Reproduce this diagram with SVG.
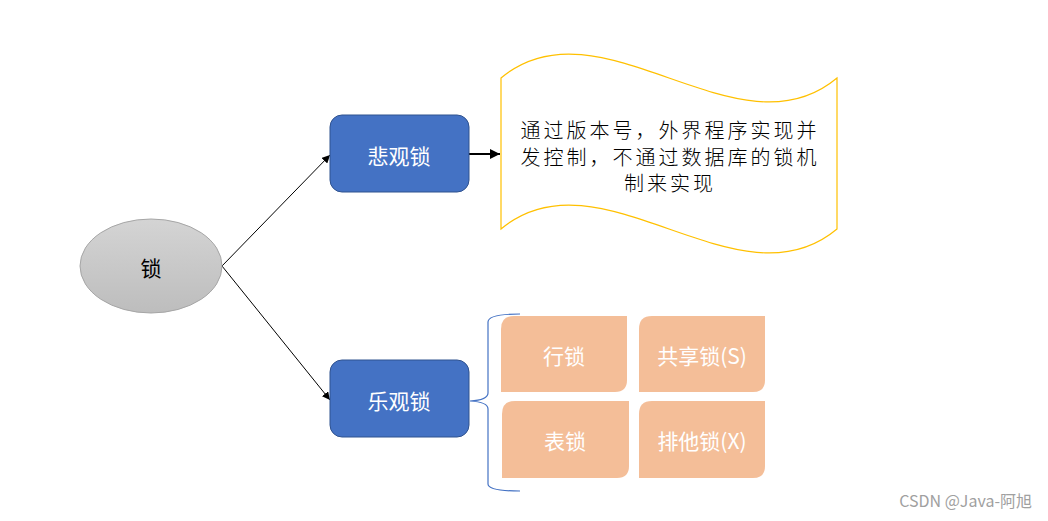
<svg xmlns="http://www.w3.org/2000/svg" width="1048" height="521" viewBox="0 0 1048 521">
<defs>
<linearGradient id="gGray" x1="0" y1="0" x2="0" y2="1">
<stop offset="0" stop-color="#D4D4D4"/>
<stop offset="1" stop-color="#BDBDBD"/>
</linearGradient>
<marker id="arrowThin" viewBox="0 0 10 10" refX="10" refY="5" markerWidth="8" markerHeight="8" markerUnits="userSpaceOnUse" orient="auto">
<path d="M0,0 L10,5 L0,10 Z" fill="#000"/>
</marker>
<marker id="arrowThick" viewBox="0 0 10 10" refX="10" refY="5" markerWidth="10" markerHeight="10" markerUnits="userSpaceOnUse" orient="auto">
<path d="M0,0 L10,5 L0,10 Z" fill="#000"/>
</marker>
</defs>
<style>
.cjk{font-family:"Microsoft YaHei","Noto Sans CJK SC","Noto Sans",sans-serif;}
.blue{fill:#4472C4;stroke:#2F528F;stroke-width:1;}
.orange{fill:#F4BE98;}
.wtxt{fill:#FFFFFF;font-size:21px;text-anchor:middle;dominant-baseline:central;}
.btxt{fill:#000000;font-size:21px;text-anchor:middle;dominant-baseline:central;}
.wave{font-size:20px;letter-spacing:3px;font-weight:300;}
.conn{stroke:#000;stroke-width:1;fill:none;}
</style>
<rect width="1048" height="521" fill="#FFFFFF"/>

<g id="connectors">
<line class="conn" x1="222" y1="266" x2="330" y2="155" marker-end="url(#arrowThin)"/>
<line class="conn" x1="222" y1="266" x2="330" y2="400" marker-end="url(#arrowThin)"/>
<line x1="469" y1="154" x2="500" y2="154" stroke="#000" stroke-width="2" marker-end="url(#arrowThick)"/>
<path d="M520,314 Q488,314 488,322 L488,393 Q488,400 470,401 Q488,402 488,409 L488,484 Q488,491 520,491" fill="none" stroke="#4472C4" stroke-width="1.2"/>
</g>

<g id="node-lock">
<ellipse cx="151" cy="266" rx="71" ry="47" fill="url(#gGray)" stroke="#A6A6A6" stroke-width="1"/>
<text class="cjk btxt" x="151" y="267">锁</text>
</g>

<g id="node-pessimistic">
<rect class="blue" x="330" y="115" width="139" height="77" rx="12"/>
<text class="cjk wtxt" x="399" y="155">悲观锁</text>
</g>

<g id="node-optimistic">
<rect class="blue" x="330" y="360" width="139" height="77" rx="12"/>
<text class="cjk wtxt" x="399" y="400">乐观锁</text>
</g>

<g id="node-wave">
<path d="M501,78 C600,-5 738,161 837,78 L837,229 C738,312 600,146 501,229 Z" fill="#FFFFFF" stroke="#FFC000" stroke-width="1.2"/>
<text class="cjk btxt wave" x="670" y="129">通过版本号，外界程序实现并</text>
<text class="cjk btxt wave" x="670" y="156">发控制，不通过数据库的锁机</text>
<text class="cjk btxt wave" x="670" y="182">制来实现</text>
</g>

<g id="node-row-lock">
<path class="orange" d="M514,316 L627,316 L627,380 Q627,392 615,392 L501,392 L501,329 Q501,316 514,316 Z"/>
<text class="cjk wtxt" x="564" y="355">行锁</text>
</g>
<g id="node-shared-lock">
<path class="orange" d="M652,316 L765,316 L765,380 Q765,392 753,392 L639,392 L639,329 Q639,316 652,316 Z"/>
<text class="cjk wtxt" x="702" y="355">共享锁(S)</text>
</g>
<g id="node-table-lock">
<path class="orange" d="M515,401 L629,401 L629,466 Q629,478 617,478 L502,478 L502,414 Q502,401 515,401 Z"/>
<text class="cjk wtxt" x="565" y="440">表锁</text>
</g>
<g id="node-exclusive-lock">
<path class="orange" d="M652,401 L765,401 L765,466 Q765,478 753,478 L639,478 L639,414 Q639,401 652,401 Z"/>
<text class="cjk wtxt" x="702" y="440">排他锁(X)</text>
</g>

<text class="cjk" x="1032" y="507" text-anchor="end" font-size="16" fill="#A0A0A0">CSDN @Java-阿旭</text>
</svg>
